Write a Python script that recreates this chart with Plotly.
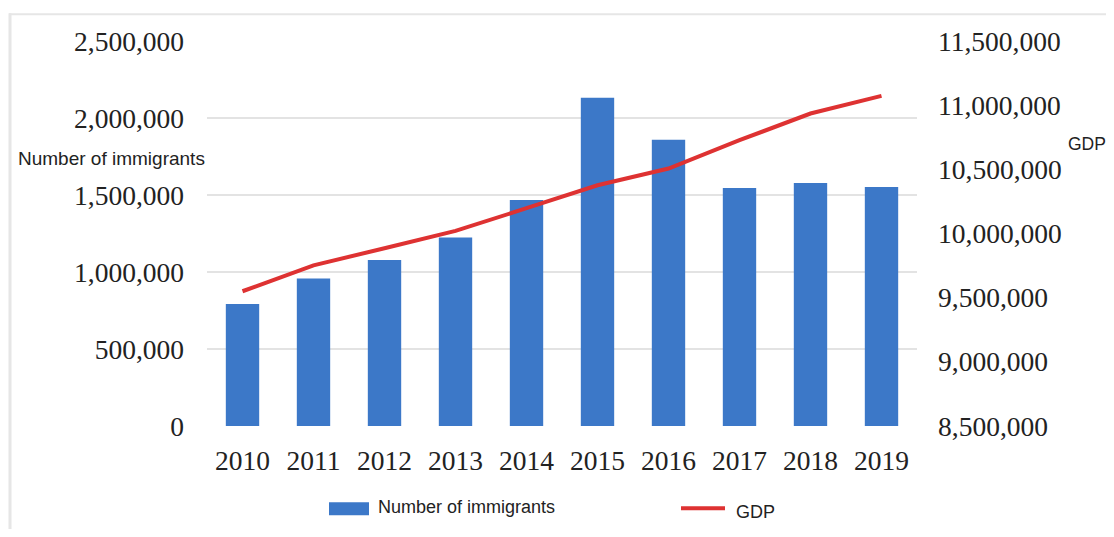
import plotly.graph_objects as go

years = ["2010", "2011", "2012", "2013", "2014", "2015", "2016", "2017", "2018", "2019"]
immigrants = [793000, 957000, 1078000, 1224000, 1468000, 2131000, 1859000, 1546000, 1578000, 1552000]
gdp = [9550000, 9752000, 9885000, 10020000, 10197000, 10376000, 10506000, 10727000, 10935000, 11072000]

left_ticks = [0, 500000, 1000000, 1500000, 2000000, 2500000]
right_ticks = [8500000, 9000000, 9500000, 10000000, 10500000, 11000000, 11500000]

BLUE = "#3C78C8"
RED = "#DE3232"
OFF = 8  # page body margin
W, H = 1114 - 2 * OFF, 537 - 2 * OFF
PL, PR, PT, PB = 207, 917, 40.7, 425.7  # plot area in screenshot pixels


def px(x):
    return (x - PL) / (PR - PL)


def py(y):
    return (PB - y) / (PB - PT)


fig = go.Figure()
fig.add_trace(go.Bar(x=years, y=immigrants, name="Number of immigrants",
                     marker=dict(color=BLUE, line=dict(width=0)), width=0.47,
                     yaxis="y"))
fig.add_trace(go.Scatter(x=years, y=gdp, name="GDP", mode="lines",
                         line=dict(color=RED, width=4), yaxis="y2"))

serif = dict(family="Liberation Serif, Times New Roman, serif", size=27.5, color="#222222")
sans = "Liberation Sans, Arial, sans-serif"

fig.update_layout(
    width=W, height=H,
    margin=dict(l=PL - OFF, r=(1114 - OFF) - PR, t=PT - OFF, b=(537 - OFF) - PB, autoexpand=False),
    plot_bgcolor="white", paper_bgcolor="white",
    showlegend=False,
    xaxis=dict(type="category", tickfont=serif, showgrid=False, showline=False,
               ticks="", ticklabelstandoff=15, zeroline=False),
    yaxis=dict(range=[0, 2500000], tickvals=left_ticks, tickformat=",d",
               tickfont=serif, showgrid=True, gridcolor="#E3E3E3", gridwidth=2,
               zeroline=False, showline=False, ticks="", ticklabelstandoff=22),
    yaxis2=dict(range=[8500000, 11500000], tickvals=right_ticks, tickformat=",d",
                tickfont=serif, overlaying="y", side="right", showgrid=False,
                zeroline=False, showline=False, ticks="", ticklabelstandoff=20),
    shapes=[
        dict(type="line", xref="paper", yref="paper", x0=px(10), x1=px(10),
             y0=py(13), y1=py(H + 30), line=dict(color="#E6E6E6", width=3)),
        dict(type="line", xref="paper", yref="paper", x0=px(9), x1=px(W + 30),
             y0=py(14), y1=py(14), line=dict(color="#E6E6E6", width=2)),
        dict(type="rect", xref="paper", yref="paper", x0=px(329), x1=px(369),
             y0=py(515), y1=py(502), fillcolor=BLUE, line=dict(width=0)),
        dict(type="line", xref="paper", yref="paper", x0=px(681), x1=px(725),
             y0=py(508), y1=py(508), line=dict(color=RED, width=4)),
    ],
    annotations=[
        dict(text="Number of immigrants", xref="paper", yref="paper", x=px(16), y=py(158),
             xanchor="left", yanchor="middle", showarrow=False,
             font=dict(family=sans, size=19, color="#222222")),
        dict(text="GDP", xref="paper", yref="paper", x=px(1066), y=py(144),
             xanchor="left", yanchor="middle", showarrow=False,
             font=dict(family=sans, size=17.5, color="#222222")),
        dict(text="Number of immigrants", xref="paper", yref="paper", x=px(376), y=py(507),
             xanchor="left", yanchor="middle", showarrow=False,
             font=dict(family=sans, size=18, color="#222222")),
        dict(text="GDP", xref="paper", yref="paper", x=px(734), y=py(512),
             xanchor="left", yanchor="middle", showarrow=False,
             font=dict(family=sans, size=18, color="#222222")),
    ],
)

fig.write_html("out.html")
